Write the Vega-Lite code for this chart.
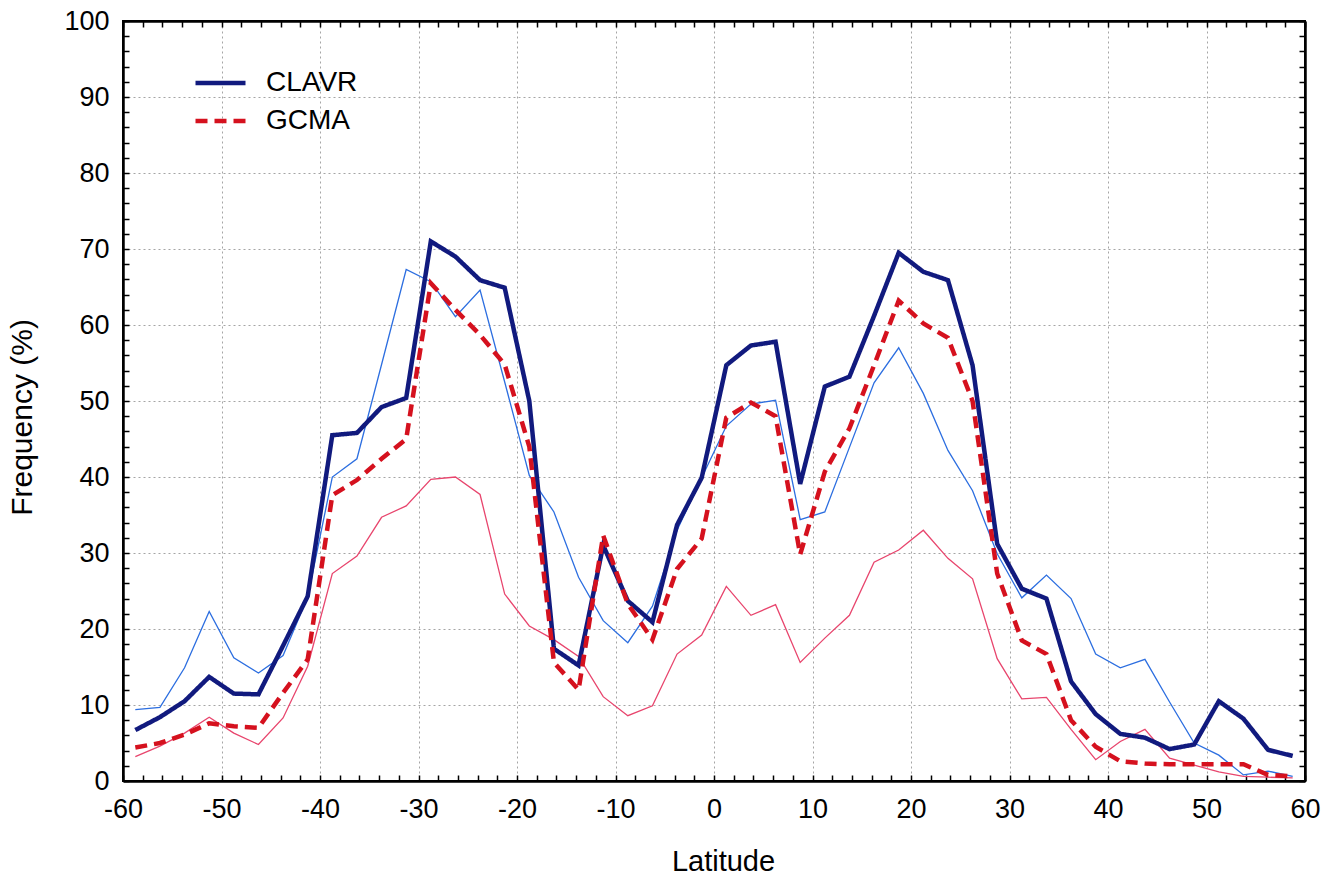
{
  "$schema": "https://vega.github.io/schema/vega-lite/v6.json",
  "width": 1182,
  "height": 760,
  "autosize": {"type": "none"},
  "padding": {"left": 123, "top": 21, "right": 20, "bottom": 95},
  "background": "white",
  "config": {"view": {"stroke": "black", "strokeWidth": 2}, "font": "Liberation Sans"},
  "data": {"values": [
    {"lat": -58.75, "CLAVR": 6.7, "GCMA": 4.4, "thin_blue": 9.4, "thin_red": 3.2},
    {"lat": -56.25, "CLAVR": 8.4, "GCMA": 5.0, "thin_blue": 9.7, "thin_red": 4.6},
    {"lat": -53.75, "CLAVR": 10.5, "GCMA": 6.1, "thin_blue": 14.9, "thin_red": 6.3},
    {"lat": -51.25, "CLAVR": 13.7, "GCMA": 7.6, "thin_blue": 22.3, "thin_red": 8.4},
    {"lat": -48.75, "CLAVR": 11.5, "GCMA": 7.2, "thin_blue": 16.2, "thin_red": 6.3},
    {"lat": -46.25, "CLAVR": 11.4, "GCMA": 7.0, "thin_blue": 14.2, "thin_red": 4.8},
    {"lat": -43.75, "CLAVR": 17.8, "GCMA": 11.6, "thin_blue": 16.5, "thin_red": 8.3},
    {"lat": -41.25, "CLAVR": 24.3, "GCMA": 16.0, "thin_blue": 24.2, "thin_red": 15.1},
    {"lat": -38.75, "CLAVR": 45.5, "GCMA": 37.6, "thin_blue": 40.0, "thin_red": 27.3},
    {"lat": -36.25, "CLAVR": 45.8, "GCMA": 39.6, "thin_blue": 42.4, "thin_red": 29.6},
    {"lat": -33.75, "CLAVR": 49.2, "GCMA": 42.4, "thin_blue": 54.8, "thin_red": 34.7},
    {"lat": -31.25, "CLAVR": 50.4, "GCMA": 45.0, "thin_blue": 67.3, "thin_red": 36.2},
    {"lat": -28.75, "CLAVR": 71.0, "GCMA": 65.5, "thin_blue": 65.7, "thin_red": 39.7},
    {"lat": -26.25, "CLAVR": 69.0, "GCMA": 62.0, "thin_blue": 61.1, "thin_red": 40.0},
    {"lat": -23.75, "CLAVR": 65.9, "GCMA": 58.7, "thin_blue": 64.6, "thin_red": 37.7},
    {"lat": -21.25, "CLAVR": 64.9, "GCMA": 54.8, "thin_blue": 52.5, "thin_red": 24.6},
    {"lat": -18.75, "CLAVR": 50.0, "GCMA": 44.0, "thin_blue": 40.2, "thin_red": 20.4},
    {"lat": -16.25, "CLAVR": 17.4, "GCMA": 15.6, "thin_blue": 35.4, "thin_red": 18.6},
    {"lat": -13.75, "CLAVR": 15.2, "GCMA": 12.0, "thin_blue": 26.8, "thin_red": 16.4},
    {"lat": -11.25, "CLAVR": 31.0, "GCMA": 32.3, "thin_blue": 21.1, "thin_red": 11.1},
    {"lat": -8.75, "CLAVR": 23.7, "GCMA": 23.3, "thin_blue": 18.2, "thin_red": 8.6},
    {"lat": -6.25, "CLAVR": 20.9, "GCMA": 18.6, "thin_blue": 23.0, "thin_red": 9.9},
    {"lat": -3.75, "CLAVR": 33.7, "GCMA": 27.9, "thin_blue": 33.0, "thin_red": 16.7},
    {"lat": -1.25, "CLAVR": 39.9, "GCMA": 31.9, "thin_blue": 39.9, "thin_red": 19.2},
    {"lat": 1.25, "CLAVR": 54.7, "GCMA": 47.8, "thin_blue": 46.7, "thin_red": 25.6},
    {"lat": 3.75, "CLAVR": 57.3, "GCMA": 49.8, "thin_blue": 49.6, "thin_red": 21.8},
    {"lat": 6.25, "CLAVR": 57.8, "GCMA": 48.0, "thin_blue": 50.1, "thin_red": 23.2},
    {"lat": 8.75, "CLAVR": 39.1, "GCMA": 29.8, "thin_blue": 34.4, "thin_red": 15.6},
    {"lat": 11.25, "CLAVR": 51.9, "GCMA": 40.7, "thin_blue": 35.4, "thin_red": 18.8},
    {"lat": 13.75, "CLAVR": 53.2, "GCMA": 46.4, "thin_blue": 43.9, "thin_red": 21.8},
    {"lat": 16.25, "CLAVR": 61.2, "GCMA": 54.7, "thin_blue": 52.4, "thin_red": 28.8},
    {"lat": 18.75, "CLAVR": 69.5, "GCMA": 63.2, "thin_blue": 57.0, "thin_red": 30.4},
    {"lat": 21.25, "CLAVR": 67.0, "GCMA": 60.2, "thin_blue": 51.0, "thin_red": 33.0},
    {"lat": 23.75, "CLAVR": 65.9, "GCMA": 58.3, "thin_blue": 43.5, "thin_red": 29.3},
    {"lat": 26.25, "CLAVR": 54.7, "GCMA": 50.0, "thin_blue": 38.2, "thin_red": 26.6},
    {"lat": 28.75, "CLAVR": 31.2, "GCMA": 27.3, "thin_blue": 29.9, "thin_red": 16.1},
    {"lat": 31.25, "CLAVR": 25.3, "GCMA": 18.5, "thin_blue": 24.1, "thin_red": 10.8},
    {"lat": 33.75, "CLAVR": 24.0, "GCMA": 16.7, "thin_blue": 27.1, "thin_red": 11.0},
    {"lat": 36.25, "CLAVR": 13.1, "GCMA": 8.0, "thin_blue": 24.0, "thin_red": 6.8},
    {"lat": 38.75, "CLAVR": 8.8, "GCMA": 4.5, "thin_blue": 16.7, "thin_red": 2.8},
    {"lat": 41.25, "CLAVR": 6.2, "GCMA": 2.6, "thin_blue": 14.9, "thin_red": 5.2},
    {"lat": 43.75, "CLAVR": 5.7, "GCMA": 2.3, "thin_blue": 16.0, "thin_red": 6.8},
    {"lat": 46.25, "CLAVR": 4.2, "GCMA": 2.2, "thin_blue": 10.4, "thin_red": 3.0},
    {"lat": 48.75, "CLAVR": 4.8, "GCMA": 2.2, "thin_blue": 5.0, "thin_red": 2.1},
    {"lat": 51.25, "CLAVR": 10.5, "GCMA": 2.2, "thin_blue": 3.4, "thin_red": 1.2},
    {"lat": 53.75, "CLAVR": 8.2, "GCMA": 2.2, "thin_blue": 0.8, "thin_red": 0.6},
    {"lat": 56.25, "CLAVR": 4.1, "GCMA": 0.8, "thin_blue": 1.3, "thin_red": 0.5},
    {"lat": 58.75, "CLAVR": 3.3, "GCMA": 0.6, "thin_blue": 0.6, "thin_red": 0.4}
  ]},
  "transform": [{"fold": ["CLAVR", "GCMA", "thin_blue", "thin_red"], "as": ["series", "freq"]}],
  "resolve": {"axis": {"x": "independent", "y": "independent"}},
  "layer": [
    {
      "transform": [{"filter": "datum.series === 'thin_red'"}],
      "mark": {"type": "line", "color": "#e8456d", "strokeWidth": 1.3},
      "encoding": {
        "x": {"field": "lat", "type": "quantitative",
          "scale": {"domain": [-60, 60], "nice": false, "zero": false},
          "axis": {
            "orient": "bottom",
            "values": [-60,-58,-56,-54,-52,-50,-48,-46,-44,-42,-40,-38,-36,-34,-32,-30,-28,-26,-24,-22,-20,-18,-16,-14,-12,-10,-8,-6,-4,-2,0,2,4,6,8,10,12,14,16,18,20,22,24,26,28,30,32,34,36,38,40,42,44,46,48,50,52,54,56,58,60],
            "labelExpr": "datum.value % 10 === 0 ? '' + datum.value : ''",
            "labelFontSize": 27, "labelColor": "black", "labelFont": "Liberation Sans",
            "labelPadding": 21, "labelFlush": false, "labelOverlap": false, "labelBound": false,
            "tickSize": -6, "tickColor": "black", "tickWidth": 1.5,
            "domain": true, "domainColor": "black", "domainWidth": 2.5,
            "grid": true, "gridColor": "#a5a5a5", "gridDash": [2, 3], "gridWidth": 1,
            "gridOpacity": {"condition": {"test": "datum.value % 10 === 0 && datum.value > -60 && datum.value < 60", "value": 1}, "value": 0},
            "title": "Latitude", "titleFontSize": 29, "titleFontWeight": "normal", "titleColor": "black", "titleFont": "Liberation Sans", "titlePadding": 25, "titleX": 600
          }},
        "y": {"field": "freq", "type": "quantitative",
          "scale": {"domain": [0, 100], "nice": false, "zero": true},
          "axis": {
            "orient": "left",
            "values": [0,2,4,6,8,10,12,14,16,18,20,22,24,26,28,30,32,34,36,38,40,42,44,46,48,50,52,54,56,58,60,62,64,66,68,70,72,74,76,78,80,82,84,86,88,90,92,94,96,98,100],
            "labelExpr": "datum.value % 10 === 0 ? '' + datum.value : ''",
            "labelFontSize": 27, "labelColor": "black", "labelFont": "Liberation Sans",
            "labelPadding": 20, "labelOverlap": false, "labelBound": false, "labelFlush": false,
            "tickSize": -6, "tickColor": "black", "tickWidth": 1.5,
            "domain": true, "domainColor": "black", "domainWidth": 2.5,
            "grid": true, "gridColor": "#a5a5a5", "gridDash": [2, 3], "gridWidth": 1,
            "gridOpacity": {"condition": {"test": "datum.value % 10 === 0 && datum.value > 0 && datum.value < 100", "value": 1}, "value": 0},
            "title": "Frequency (%)", "titleFontSize": 30, "titleFontWeight": "normal", "titleColor": "black", "titleFont": "Liberation Sans", "titlePadding": 26, "titleY": 396
          }}
      }
    },
    {
      "transform": [{"filter": "datum.series === 'thin_blue'"}],
      "mark": {"type": "line", "color": "#2c6ee0", "strokeWidth": 1.3},
      "encoding": {
        "x": {"field": "lat", "type": "quantitative", "axis": null},
        "y": {"field": "freq", "type": "quantitative", "axis": null}
      }
    },
    {
      "transform": [{"filter": "datum.series === 'CLAVR' || datum.series === 'GCMA'"}],
      "mark": {"type": "line", "strokeWidth": 4.5},
      "encoding": {
        "x": {"field": "lat", "type": "quantitative", "axis": null},
        "y": {"field": "freq", "type": "quantitative", "axis": null},
        "color": {"field": "series", "type": "nominal",
          "scale": {"domain": ["CLAVR", "GCMA"], "range": ["#111a7e", "#d5111e"]},
          "legend": {"orient": "none", "legendX": 70, "legendY": 50, "title": null, "symbolType": "stroke", "symbolSize": 2500, "symbolStrokeWidth": 4.5, "clipHeight": 24, "labelFontSize": 28, "labelFont": "Liberation Sans", "labelColor": "black", "labelOffset": 18, "rowPadding": 10, "padding": 0}},
        "strokeDash": {"field": "series", "type": "nominal",
          "scale": {"domain": ["CLAVR", "GCMA"], "range": [[1, 0], [12, 7]]},
          "legend": {"orient": "none", "legendX": 70, "legendY": 50, "title": null, "symbolType": "stroke", "symbolSize": 2500, "symbolStrokeWidth": 4.5, "clipHeight": 24, "labelFontSize": 28, "labelFont": "Liberation Sans", "labelColor": "black", "labelOffset": 18, "rowPadding": 10, "padding": 0}}
      }
    },
    {
      "transform": [{"filter": "datum.series === 'CLAVR'"}],
      "mark": {"type": "line", "opacity": 0},
      "encoding": {
        "x": {"field": "lat", "type": "quantitative",
          "axis": {"orient": "top", "values": [-60,-58,-56,-54,-52,-50,-48,-46,-44,-42,-40,-38,-36,-34,-32,-30,-28,-26,-24,-22,-20,-18,-16,-14,-12,-10,-8,-6,-4,-2,0,2,4,6,8,10,12,14,16,18,20,22,24,26,28,30,32,34,36,38,40,42,44,46,48,50,52,54,56,58,60], "labels": false, "tickSize": -6, "tickColor": "black", "tickWidth": 1.5, "domain": true, "domainColor": "black", "domainWidth": 2.5, "grid": false, "title": null}},
        "y": {"field": "freq", "type": "quantitative",
          "axis": {"orient": "right", "values": [0,2,4,6,8,10,12,14,16,18,20,22,24,26,28,30,32,34,36,38,40,42,44,46,48,50,52,54,56,58,60,62,64,66,68,70,72,74,76,78,80,82,84,86,88,90,92,94,96,98,100], "labels": false, "tickSize": -6, "tickColor": "black", "tickWidth": 1.5, "domain": true, "domainColor": "black", "domainWidth": 2.5, "grid": false, "title": null}}
      }
    }
  ]
}
